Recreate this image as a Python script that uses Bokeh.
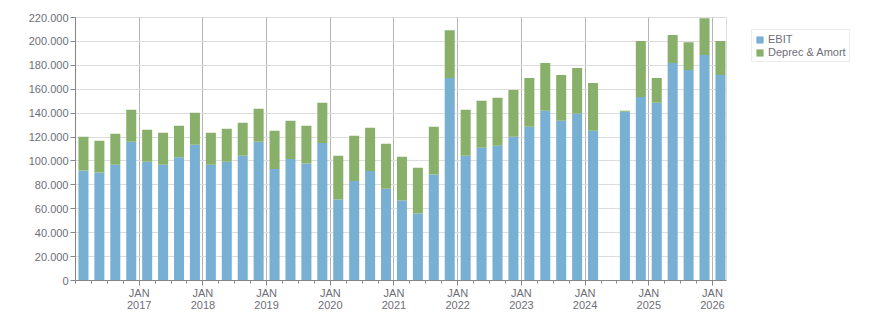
from bokeh.plotting import figure
from bokeh.layouts import row
from bokeh.models import (ColumnDataSource, Range1d, FixedTicker, Legend,
                          LegendItem)
from bokeh.embed import file_html
from bokeh.resources import INLINE

# Quarterly figures (2024 Q2 not reported)
quarters = [
    "2016Q1", "2016Q2", "2016Q3", "2016Q4",
    "2017Q1", "2017Q2", "2017Q3", "2017Q4",
    "2018Q1", "2018Q2", "2018Q3", "2018Q4",
    "2019Q1", "2019Q2", "2019Q3", "2019Q4",
    "2020Q1", "2020Q2", "2020Q3", "2020Q4",
    "2021Q1", "2021Q2", "2021Q3", "2021Q4",
    "2022Q1", "2022Q2", "2022Q3", "2022Q4",
    "2023Q1", "2023Q2", "2023Q3", "2023Q4",
    "2024Q1", "2024Q3", "2024Q4",
    "2025Q1", "2025Q2", "2025Q3", "2025Q4",
    "2026Q1",
]
ebit = [
    92000, 90300, 96900, 116100,
    99400, 96900, 103100, 113600,
    96900, 99400, 104400, 116100,
    93300, 101700, 97800, 115000,
    67800, 83300, 91700, 76700,
    66900, 56100, 88600, 169400,
    104400, 111100, 112800, 120300,
    128600, 141900, 133600, 139700,
    125300, 141100, 153600,
    148600, 181900, 176100, 188600,
    172000,
]
deprec = [
    28300, 26600, 25900, 26700,
    26700, 26700, 26300, 26700,
    26700, 27500, 27500, 27500,
    32000, 31900, 31600, 33600,
    36600, 37800, 36100, 37700,
    36700, 38300, 40000, 40000,
    38400, 39200, 40000, 39100,
    40800, 40000, 38300, 38100,
    40000, 800, 46700,
    20800, 23400, 23300, 30800,
    28300,
]
series_names = ["EBIT", "Deprec & Amort"]
series_colors = ["#78b0d3", "#89b06a"]

year_ticks = list(range(2017, 2027))
y_ticks = list(range(0, 220001, 20000))

FONT = "Liberation Sans"
TEXT_COLOR = "#6e6e78"


def quarter_mid(label):
    """Fractional-year position of the middle of a quarter."""
    year, q = int(label[:4]), int(label[5])
    return year + (q - 1) * 0.25 + 0.125


source = ColumnDataSource(dict(
    x=[quarter_mid(q) for q in quarters],
    ebit=ebit,
    deprec=deprec,
))

p = figure(width=740, height=313, output_backend="svg", toolbar_location=None,
           x_range=Range1d(2016.0, 2026.22), y_range=Range1d(0, 220000),
           min_border_left=75, min_border_right=14, min_border_top=17,
           min_border_bottom=33)
p.outline_line_color = "#dcdcdc"
p.background_fill_color = "white"
p.border_fill_color = "white"

bar_style = dict(x="x", width=0.1575, color=series_colors, line_color=None,
                 source=source)
bars = p.vbar_stack(["ebit", "deprec"], **bar_style)

# Axes
xa = p.xaxis[0]
xa.ticker = FixedTicker(ticks=year_ticks,
                        minor_ticks=[y + q * 0.25 for y in range(2016, 2027)
                                     for q in range(4)])
xa.major_label_overrides = {y: f"JAN\n{y}" for y in year_ticks}
ya = p.yaxis[0]
ya.ticker = FixedTicker(ticks=y_ticks)
ya.major_label_overrides = {
    v: ("0" if v == 0 else f"{v // 1000}.{v % 1000:03d}") for v in y_ticks
}

for ax in (xa, ya):
    ax.axis_line_color = "#868686"
    ax.major_tick_line_color = "#868686"
    ax.major_tick_out = 5
    ax.major_tick_in = 0
    ax.major_label_text_font = FONT
    ax.major_label_text_font_size = "11px"
    ax.major_label_text_color = TEXT_COLOR
ya.minor_tick_line_color = None
xa.minor_tick_line_color = "#868686"
xa.minor_tick_out = 3
xa.minor_tick_in = 0
xa.major_label_standoff = 1
xa.major_label_text_line_height = 1.0
ya.major_label_standoff = 2

# Grid: light horizontal lines, darker year separators
p.ygrid.ticker = FixedTicker(ticks=y_ticks)
p.ygrid.grid_line_color = "#dcdcdc"
p.xgrid.ticker = FixedTicker(ticks=year_ticks)
p.xgrid.grid_line_color = "#b4b4b4"

# Legend lives in a narrow companion panel to the right of the chart; its
# stack shares the chart's data but the panel's range keeps the bars out of view
leg_fig = figure(width=136, height=313, output_backend="svg",
                 toolbar_location=None, x_range=Range1d(0, 1),
                 y_range=Range1d(0, 1), min_border=0)
leg_fig.axis.visible = False
leg_fig.grid.visible = False
leg_fig.outline_line_color = None
swatches = leg_fig.vbar_stack(["ebit", "deprec"], **bar_style)

legend = Legend(
    items=[LegendItem(label=n, renderers=[r])
           for n, r in zip(series_names, swatches)],
    location=(11, 218),
    orientation="vertical",
    border_line_color="#dcdcdc",
    background_fill_color="white",
    background_fill_alpha=1.0,
    label_text_font=FONT,
    label_text_font_size="11px",
    label_text_color=TEXT_COLOR,
    glyph_width=9,
    glyph_height=9,
    label_height=9,
    label_standoff=4,
    spacing=1,
    padding=3,
    margin=0,
)
leg_fig.add_layout(legend, "center")

layout = row(p, leg_fig, spacing=0)
open("out.html", "w").write(file_html(layout, INLINE))
